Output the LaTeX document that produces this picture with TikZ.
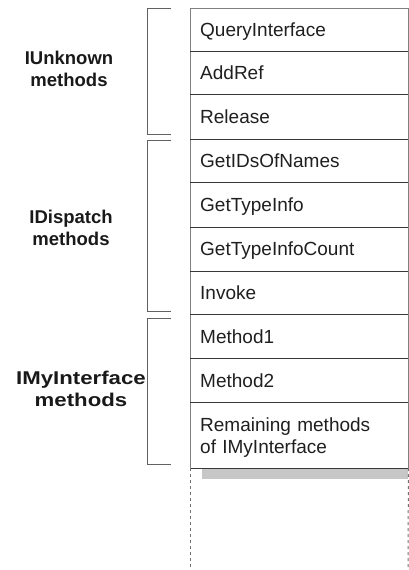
\documentclass[tikz,border=0pt]{standalone}
\usepackage{fontspec}
\setmainfont{Liberation Sans}
\newfontfamily\widebold[FakeStretch=1.2]{Liberation Sans Bold}
\begin{document}
\begin{tikzpicture}[x=1pt,y=-1pt,
  row/.style={anchor=north west, minimum width=218pt, text width=198pt,
    inner xsep=10pt, inner ysep=0pt, align=left, text=black!88,
    text height=13.5pt, text depth=0pt,
    font=\fontsize{19}{22}\selectfont},
  sepline/.style={draw=black!78, line width=1pt},
  outline/.style={draw=black!50, line width=1pt},
  bracketline/.style={draw=black!62, line width=1pt},
  grp/.style={align=center, text=black!90, font=\bfseries\fontsize{18.5}{22}\selectfont},
  dotline/.style={draw=black!55, line width=1pt, dash pattern=on 3pt off 3pt}]
\useasboundingbox (0,0) rectangle (409,570);
% rows
\node[row, minimum height=43pt] (r1) at (190,8) {QueryInterface};
\node[row, minimum height=43pt] (r2) at (r1.south west) {AddRef};
\node[row, minimum height=44pt] (r3) at (r2.south west) {Release};
\node[row, minimum height=43pt] (r4) at (r3.south west) {GetIDsOfNames};
\node[row, minimum height=44pt] (r5) at (r4.south west) {GetTypeInfo};
\node[row, minimum height=44pt] (r6) at (r5.south west) {GetTypeInfoCount};
\node[row, minimum height=43pt] (r7) at (r6.south west) {Invoke};
\node[row, minimum height=43pt] (r8) at (r7.south west) {Method1};
\node[row, minimum height=44pt] (r9) at (r8.south west) {Method2};
\node[row, minimum height=65pt, text height=13.5pt, text depth=22pt] (r10) at (r9.south west) {Remaining methods\\of IMyInterface};
% shadow
\fill[black!22] ([xshift=12pt]r10.south west) rectangle ([yshift=-11pt]r10.south east);
% outline
\draw[outline] (r10.south west) -- (r1.north west) -- (r1.north east) -- (r10.south east);
\foreach \r in {r1,r2,r3,r4,r5,r6,r7,r8,r9,r10}
  \draw[sepline] (\r.south west) -- (\r.south east);
% dotted continuation
\coordinate (dl) at (190,570);
\coordinate (dr) at (408,570);
\draw[dotline] (r10.south west) -- (dl);
\draw[dotline] (r10.south east) -- (dr);
% brackets
\draw[bracketline] (171,8) -- (147,8) -- (147,134) -- (171,134);
\draw[bracketline] (171,140) -- (147,140) -- (147,311) -- (171,311);
\draw[bracketline] (171,318) -- (147,318) -- (147,464) -- (171,464);
% group labels
\node[grp] (g1) at (69,69) {IUnknown\\methods};
\node[grp] (g2) at (71,228) {IDispatch\\methods};
\node[grp, font=\widebold\fontsize{18.5}{22}\selectfont] (g3) at (81,389) {IMyInterface\\methods};
\end{tikzpicture}
\end{document}
